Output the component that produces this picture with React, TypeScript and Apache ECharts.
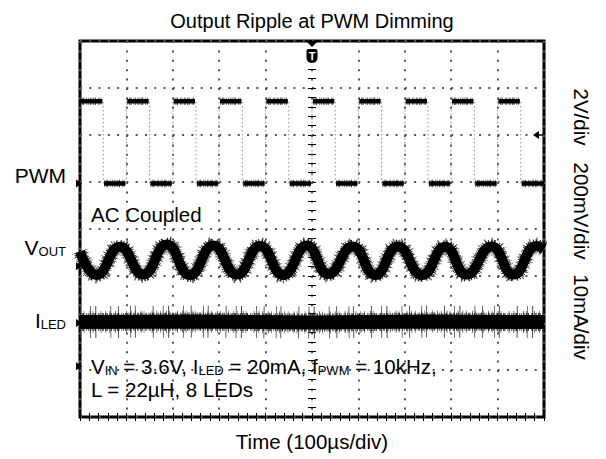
import React, { useEffect, useRef } from "react";
import * as echarts from "echarts";

const chartTitle = "Output Ripple at PWM Dimming";
const xAxisTitle = "Time (100µs/div)";
const timeMinUs = -500;
const timeMaxUs = 500;
const timeDivUs = 100;
const divMin = 0;
const divMax = 8;

// PWM (2V/div), in screen divisions; first segment is high
const pwmEdgeTimesUs = [-450, -400, -350, -300, -250, -200, -150, -100, -50, 0, 50, 100, 150, 200, 250, 300, 350, 400, 450];
const pwmHighDiv = 6.72;
const pwmLowDiv = 4.97;

// V_OUT ripple (200mV/div), peaks and troughs
const voutTimesUs = [-500, -464, -414, -364, -313, -263, -213, -162, -112, -62, -11, 35, 88, 136, 185, 237, 287, 333, 387, 434, 484, 500];
const voutDivs = [3.52, 3.02, 3.62, 3.03, 3.67, 3.02, 3.65, 3.03, 3.64, 3.02, 3.65, 3.04, 3.63, 3.02, 3.63, 3.02, 3.62, 3.03, 3.63, 3.03, 3.64, 3.58];

// I_LED (10mA/div)
const iledTimesUs = [-500, -250, 0, 250, 500];
const iledDivs = [2.02, 2.03, 2.01, 2.03, 2.02];

const channelMarkerDivs = [4.97, 3.21, 2.0, 1.08];
const triggerLevelDiv = 6.0;
const triggerTimeUs = 0;

const FONT = "'Liberation Sans', Arial, Helvetica, sans-serif";

// stroke patterns used to give the scope traces a noisy edge
const fineNoise = [0.6, 1.2, 0.8, 0.6, 1, 2.2, 0.6, 0.9, 0.7, 1.6, 0.8, 0.7];
const sparseNoise = [0.7, 3.1, 0.6, 5.3, 0.8, 2.2, 0.6, 7.4, 0.7, 4.1];
const rareNoise = [0.8, 9.3, 0.7, 4.6, 0.9, 14.2, 0.7, 6.8, 0.8, 11.5, 0.7, 3.9, 0.8, 17.1];

function buildPwm() {
  const bounds = [timeMinUs, ...pwmEdgeTimesUs, timeMaxUs];
  const segs: any[] = [];
  for (let i = 0; i < bounds.length - 1; i++) {
    const lvl = i % 2 === 0 ? pwmHighDiv : pwmLowDiv;
    segs.push([bounds[i] + (i === 0 ? 0 : 2), lvl]);
    segs.push([bounds[i + 1] - (i === bounds.length - 2 ? 0 : 2), lvl]);
    segs.push([bounds[i + 1], "-"]);
  }
  const edges: any[] = [];
  pwmEdgeTimesUs.forEach((t) => {
    edges.push([t, pwmLowDiv]);
    edges.push([t, pwmHighDiv]);
    edges.push([t, "-"]);
  });
  return { segs, edges };
}

const axisCommon = {
  type: "value" as const,
  axisLine: { show: false },
  axisLabel: { show: false },
  axisTick: { show: true, inside: true, length: 4, lineStyle: { color: "#000", width: 1 } },
  minorTick: { show: true, splitNumber: 5, length: 4, lineStyle: { color: "#000", width: 1 } },
};

export default function App() {
  const ref = useRef<HTMLDivElement>(null);
  useEffect(() => {
    const chart = echarts.init(ref.current!, null, { renderer: "svg" });
    const { segs, edges } = buildPwm();
    const vout = voutTimesUs.map((t, i) => [t, voutDivs[i]]);
    const iled = iledTimesUs.map((t, i) => [t, iledDivs[i]]);
    const line = (data: any[], width: number, color = "#000", pattern?: number[]) => ({
      type: "line",
      data,
      symbol: "none",
      silent: true,
      connectNulls: false,
      lineStyle: { color, width, cap: "butt", type: pattern ? pattern : "solid" },
    });
    chart.setOption({
      animation: false,
      backgroundColor: "#fff",
      grid: { left: 80, top: 41, width: 464, height: 376, show: true, borderColor: "#000", borderWidth: 3, backgroundColor: "#fff" },
      xAxis: [
        {
          ...axisCommon,
          min: timeMinUs,
          max: timeMaxUs,
          interval: timeDivUs,
          position: "bottom",
          splitLine: { show: true, lineStyle: { color: "#555", width: 2, type: [2, 7.4] } },
        },
        { ...axisCommon, min: timeMinUs, max: timeMaxUs, interval: timeDivUs, position: "top", splitLine: { show: false } },
      ],
      yAxis: [
        {
          ...axisCommon,
          min: divMin,
          max: divMax,
          interval: 1,
          position: "left",
          splitLine: { show: true, lineStyle: { color: "#555", width: 2, type: [2, 7.28] } },
        },
        { ...axisCommon, min: divMin, max: divMax, interval: 1, position: "right", splitLine: { show: false } },
      ],
      series: [
        line(edges, 1, "#888", [1.5, 2.5]),
        line(segs, 7.5, "#444", fineNoise),
        line(segs, 4.5),
        { ...line(vout, 17, "#666", sparseNoise), smooth: 0.5 },
        { ...line(vout, 13.5, "#222", fineNoise), smooth: 0.5 },
        { ...line(vout, 10), smooth: 0.5 },
        line(iled, 32, "#333", rareNoise),
        line(iled, 22, "#444", sparseNoise),
        line(iled, 18, "#111", fineNoise),
        line(iled, 14),
      ],
    });

    const px = (t: number, d: number) => chart.convertToPixel({ gridIndex: 0 }, [t, d]) as number[];
    const g: any[] = [];
    const [xLeft] = px(timeMinUs, 0);
    const [xRight] = px(timeMaxUs, 0);
    const [, yTop] = px(0, divMax);
    channelMarkerDivs.forEach((d) => {
      const [, y] = px(timeMinUs, d);
      g.push({ type: "polygon", shape: { points: [[xLeft - 4, y - 4], [xLeft + 2, y], [xLeft - 4, y + 4]] }, style: { fill: "#000" }, z: 100 });
    });
    // trigger level
    {
      const [, y] = px(timeMaxUs, triggerLevelDiv);
      g.push({ type: "polygon", shape: { points: [[xRight - 11, y], [xRight - 5, y - 4], [xRight - 5, y + 4]] }, style: { fill: "#000" }, z: 100 });
      g.push({ type: "line", shape: { x1: xRight - 6, y1: y, x2: xRight - 1, y2: y }, style: { stroke: "#000", lineWidth: 1.5 }, z: 100 });
    }
    // trigger time
    {
      const [x] = px(triggerTimeUs, divMax);
      g.push({ type: "polygon", shape: { points: [[x - 6, yTop], [x + 6, yTop], [x, yTop + 6]] }, style: { fill: "#000" }, z: 100 });
      g.push({ type: "rect", shape: { x: x - 5.5, y: yTop + 8, width: 11, height: 14, r: [2, 2, 5, 5] }, style: { fill: "#000" }, z: 100 });
      g.push({ type: "text", x, y: yTop + 15, style: { text: "T", fill: "#fff", font: `bold 11px ${FONT}`, align: "center", verticalAlign: "middle" }, z: 101 });
    }
    const txt = (text: string, x: number, y: number, size: number, align = "left", rotation = 0, rich?: any) => ({
      type: "text",
      x,
      y,
      rotation,
      z: 110,
      style: { text, fill: "#000", fontFamily: FONT, fontSize: size, align, verticalAlign: "middle", rich },
    });
    const rich = {
      n: { fontFamily: FONT, fontSize: 21, lineHeight: 21, fill: "#000" },
      s: { fontFamily: FONT, fontSize: 13, lineHeight: 10, verticalAlign: "bottom", fill: "#000" },
    };
    const richIn = {
      n: { fontFamily: FONT, fontSize: 20.5, lineHeight: 21, fill: "#000" },
      s: { fontFamily: FONT, fontSize: 13, lineHeight: 10, verticalAlign: "bottom", fill: "#000" },
    };
    g.push(txt(chartTitle, 312, 21, 20, "center"));
    g.push(txt(xAxisTitle, 312, 441, 20.5, "center"));
    g.push(txt("PWM", 66, 175, 21, "right"));
    g.push(txt("{n|V}{s|OUT}", 66, 247, 21, "right", 0, rich));
    g.push(txt("{n|I}{s|LED}", 66, 320, 21, "right", 0, rich));
    g.push(txt("AC Coupled", 91, 214, 20.5, "left"));
    g.push(txt("{n|V}{s|IN}{n| = 3.6V, I}{s|LED}{n| = 20mA, f}{s|PWM}{n| = 10kHz,}", 91, 366, 20.5, "left", 0, richIn));
    g.push(txt("L = 22µH, 8 LEDs", 91, 389, 20.5, "left"));
    g.push(txt("2V/div", 581, 117, 20.5, "center", -Math.PI / 2));
    g.push(txt("200mV/div", 581, 211, 20.5, "center", -Math.PI / 2));
    g.push(txt("10mA/div", 581, 317, 20.5, "center", -Math.PI / 2));
    chart.setOption({ graphic: g });
    return () => chart.dispose();
  }, []);
  return <div ref={ref} style={{ position: "fixed", left: 0, top: 0, width: 606, height: 459, background: "#fff" }} />;
}
